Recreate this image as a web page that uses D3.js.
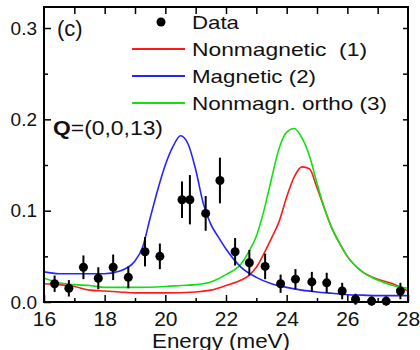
<!DOCTYPE html>
<html lang="en">
<head>
<meta charset="utf-8">
<title>Energy scan Q=(0,0,13)</title>
<style>
  body { margin: 0; background: #fff; }
  svg { display: block; }
  text { font-family: "Liberation Sans", Arial, Helvetica, sans-serif; fill: #111; }
  .tick line { stroke: #000; stroke-width: 1.5px; }
  .domain { display: none; }
</style>
</head>
<body>
<svg id="chart" width="420" height="350"></svg>
<script src="https://cdnjs.cloudflare.com/ajax/libs/d3/7.8.5/d3.min.js"></script>
<script>
// measured points (meV, intensity, error)
var dataE   = [16.35, 16.82, 17.30, 17.79, 18.28, 18.78, 19.33, 19.82, 20.55, 20.81, 21.33, 21.80,
               22.30, 22.77, 23.29, 23.80, 24.29, 24.83, 25.32, 25.83, 26.27, 26.80, 27.28, 27.75];
var dataI   = [0.020, 0.015, 0.038, 0.026, 0.038, 0.027, 0.055, 0.050, 0.112, 0.112, 0.097, 0.133,
               0.055, 0.043, 0.039, 0.020, 0.025, 0.022, 0.021, 0.012, 0.003, 0.001, 0.001, 0.012];
var dataErr = [0.009, 0.009, 0.013, 0.012, 0.014, 0.012, 0.016, 0.014, 0.020, 0.027, 0.019, 0.025,
               0.015, 0.014, 0.014, 0.010, 0.011, 0.011, 0.011, 0.009, 0.006, 0.005, 0.005, 0.009];

// model curves
var magE = [16, 16.5, 17, 17.5, 18, 18.5, 19, 19.25, 19.5, 19.75, 20, 20.25, 20.5, 20.75, 21, 21.25,
            21.5, 21.75, 22, 22.5, 23, 23.5, 24, 24.5, 25, 25.5, 26, 26.5, 27, 27.5, 28];
var magI = [0.033, 0.031, 0.031, 0.031, 0.031, 0.034, 0.045, 0.060, 0.092, 0.123, 0.150, 0.170, 0.182, 0.173, 0.145, 0.108,
            0.085, 0.071, 0.058, 0.038, 0.027, 0.020, 0.016, 0.013, 0.011, 0.0095, 0.008, 0.0075, 0.007, 0.007, 0.007];

var orthoE = [16, 16.5, 17, 17.5, 18, 19, 20, 20.5, 21, 21.5, 22, 22.5, 22.75, 23, 23.25, 23.5, 23.75,
              24, 24.25, 24.5, 24.75, 25, 25.25, 25.5, 25.75, 26, 26.5, 27, 27.5, 28];
var orthoI = [0.026, 0.021, 0.019, 0.018, 0.016, 0.016, 0.017, 0.018, 0.019, 0.022, 0.030, 0.042, 0.055, 0.072, 0.100, 0.135, 0.168,
              0.186, 0.190, 0.180, 0.160, 0.130, 0.102, 0.080, 0.064, 0.050, 0.033, 0.024, 0.018, 0.015];

var nonmagE = [16, 16.5, 17, 17.5, 18, 18.5, 19, 20, 21, 21.5, 22, 22.5, 22.75, 23, 23.25, 23.5, 23.75,
               24, 24.25, 24.5, 24.75, 25, 25.25, 25.5, 25.75, 26, 26.5, 27, 27.5, 28];
var nonmagI = [0.020, 0.019, 0.017, 0.013, 0.012, 0.011, 0.010, 0.010, 0.011, 0.013, 0.018, 0.024, 0.029, 0.038, 0.053, 0.070, 0.088,
               0.115, 0.137, 0.148, 0.146, 0.125, 0.102, 0.080, 0.064, 0.050, 0.033, 0.025, 0.020, 0.012];

var xMajor = [16, 18, 20, 22, 24, 26, 28];
var yMajor = [0.0, 0.1, 0.2, 0.3];

var legendLabels = ["Data", "Nonmagnetic  (1)", "Magnetic (2)", "Nonmagn. ortho (3)"];
var legendColors = [null, "#ff1a1a", "#2424ff", "#12e012"];
var legendWidths = [47, 175, 124, 195];

var svg = d3.select("#chart"),
    pLeft = 44, pRight = 408, pTop = 7, pBottom = 302;

var x = d3.scaleLinear().domain([16, 28]).range([pLeft, pRight]);
var y = d3.scaleLinear().domain([0, 0.323]).range([pBottom, pTop]);

svg.append("defs").append("clipPath").attr("id", "plotclip")
  .append("rect").attr("x", pLeft).attr("y", pTop).attr("width", pRight - pLeft).attr("height", pBottom - pTop);

// axes, ticks pointing inward
svg.append("g").attr("transform", "translate(0," + pBottom + ")")
  .call(d3.axisBottom(x).tickValues(xMajor).tickSize(-7).tickPadding(9).tickFormat(d3.format("d")))
  .selectAll("text").style("font-size", "21px");
svg.append("g").attr("transform", "translate(0," + pBottom + ")")
  .call(d3.axisBottom(x).tickValues(d3.range(17, 28, 2)).tickSize(-4).tickFormat(""));
svg.append("g").attr("transform", "translate(0," + pTop + ")")
  .call(d3.axisTop(x).tickValues(d3.range(17, 28, 1)).tickSize(-7).tickFormat(""));
svg.append("g").attr("transform", "translate(" + pLeft + ",0)")
  .call(d3.axisLeft(y).tickValues(yMajor).tickSize(-7).tickPadding(7).tickFormat(d3.format(".1f")))
  .selectAll("text").style("font-size", "19px");
svg.append("g").attr("transform", "translate(" + pLeft + ",0)")
  .call(d3.axisLeft(y).tickValues([0.05, 0.15, 0.25]).tickSize(-4).tickFormat(""));
svg.append("g").attr("transform", "translate(" + pRight + ",0)")
  .call(d3.axisRight(y).tickValues([0.05, 0.1, 0.15, 0.2, 0.25, 0.3]).tickSize(-5).tickFormat(""));

// model curves
var line = d3.line().curve(d3.curveMonotoneX);
var curves = [
  {e: nonmagE, v: nonmagI, c: legendColors[1]},
  {e: orthoE, v: orthoI, c: legendColors[3]},
  {e: magE, v: magI, c: legendColors[2]}
];
var cg = svg.append("g").attr("clip-path", "url(#plotclip)");
curves.forEach(function(k) {
  cg.append("path")
    .attr("d", line(k.e.map(function(e, i) { return [x(e), y(k.v[i])]; })))
    .attr("fill", "none").attr("stroke", k.c).attr("stroke-width", 1.6);
});

// data with error bars
var pts = dataE.map(function(e, i) { return {e: e, v: dataI[i], s: dataErr[i]}; });
var dg = svg.append("g");
dg.selectAll("line").data(pts).enter().append("line")
  .attr("x1", function(d) { return x(d.e); }).attr("x2", function(d) { return x(d.e); })
  .attr("y1", function(d) { return y(d.v - d.s); }).attr("y2", function(d) { return y(d.v + d.s); })
  .attr("stroke", "#000").attr("stroke-width", 2);
dg.selectAll("circle").data(pts).enter().append("circle")
  .attr("cx", function(d) { return x(d.e); }).attr("cy", function(d) { return y(d.v); })
  .attr("r", 4.5).attr("fill", "#000");

// frame
svg.append("rect").attr("x", pLeft).attr("y", pTop).attr("width", pRight - pLeft).attr("height", pBottom - pTop)
  .attr("fill", "none").attr("stroke", "#000").attr("stroke-width", 2);

// legend
var rows = [22, 49, 76, 103];
legendLabels.forEach(function(lab, i) {
  if (legendColors[i]) {
    svg.append("line").attr("x1", 132).attr("x2", 185).attr("y1", rows[i]).attr("y2", rows[i])
      .attr("stroke", legendColors[i]).attr("stroke-width", 2);
  } else {
    svg.append("circle").attr("cx", 161).attr("cy", rows[i]).attr("r", 4.5).attr("fill", "#000");
  }
  svg.append("text").attr("x", 192).attr("y", rows[i]).attr("dy", "0.36em")
    .attr("textLength", legendWidths[i]).attr("lengthAdjust", "spacingAndGlyphs")
    .style("white-space", "pre").style("font-size", "19px").text(lab);
});

svg.append("text").attr("x", 57).attr("y", 36).style("font-size", "22px").text("(c)");
var q = svg.append("text").attr("x", 53).attr("y", 135).style("font-size", "20px")
  .attr("textLength", 110).attr("lengthAdjust", "spacingAndGlyphs");
q.append("tspan").style("font-weight", "bold").text("Q");
q.append("tspan").text("=(0,0,13)");

svg.append("text").attr("x", 221).attr("y", 348).attr("text-anchor", "middle")
  .attr("textLength", 138).attr("lengthAdjust", "spacingAndGlyphs")
  .style("font-size", "21px").text("Energy (meV)");
</script>
</body>
</html>
